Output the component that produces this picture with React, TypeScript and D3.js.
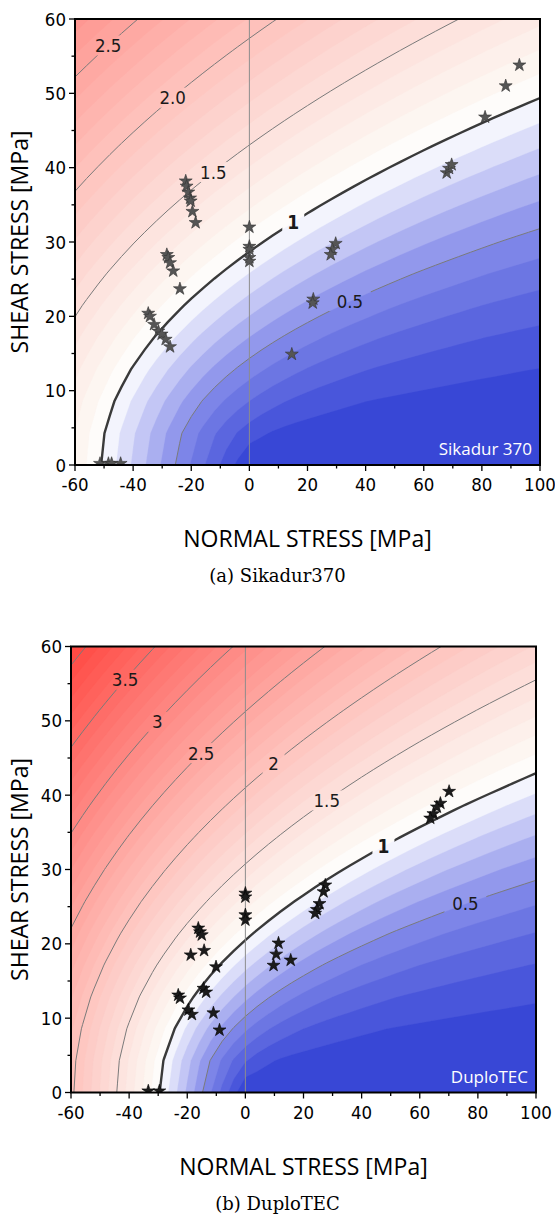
import React from 'react';
import * as d3 from 'd3';

// failure-envelope parameters read off the "1" contour of each panel
// tensile = |sigma| where the 1-contour meets tau = 0, shear = tau of the 1-contour at sigma = 0
const sikaTensile = 51;
const sikaShear = 28.7;
const duploTensile = 29.5;
const duploShear = 20.5;

// test points [normal stress, shear stress] in MPa
const sikaStars: [number, number][] = [
  [-21.9, 38.2], [-21.6, 37.5], [-21.0, 36.7], [-20.4, 35.9], [-20.2, 35.5], [-19.6, 34.1], [-18.5, 32.6],
  [-28.4, 28.3], [-27.9, 27.9], [-27.3, 27.2], [-26.2, 26.1], [-23.9, 23.7],
  [-34.8, 20.4], [-34.2, 20.0], [-32.8, 18.9], [-31.3, 18.0], [-30.2, 17.6], [-28.8, 16.9], [-27.3, 15.9],
  [0, 32.0], [0, 29.4], [0, 29.0], [0, 27.9], [0, 27.4],
  [-51.4, 0.2], [-48.5, 0.2], [-47.4, 0.2], [-44.3, 0.2],
  [29.7, 29.8], [28.5, 29.0], [28.0, 28.3],
  [22.0, 22.3], [21.8, 21.8], [14.6, 14.9],
  [67.9, 39.3], [68.7, 39.9], [69.6, 40.4], [81.1, 46.8], [88.2, 51.0], [92.9, 53.8],
];

const duploStars: [number, number][] = [
  [0, 26.8], [0, 26.3], [0, 23.9], [0, 23.2],
  [-16.2, 22.1], [-15.6, 21.6], [-15.0, 21.2], [-18.8, 18.5], [-14.2, 19.1], [-10.1, 16.9],
  [-23.1, 13.1], [-22.5, 12.7], [-14.4, 14.0], [-13.5, 13.5],
  [-19.6, 11.1], [-18.4, 10.5], [-11.0, 10.7], [-8.9, 8.4],
  [-33.4, 0.2], [-29.6, 0.2],
  [11.4, 20.1], [10.6, 18.6], [9.7, 17.1], [15.6, 17.8],
  [27.5, 27.9], [26.9, 27.0], [25.5, 25.4], [24.6, 24.6], [24.0, 24.1],
  [70.1, 40.5], [67.1, 38.9], [65.9, 38.4], [64.7, 37.5], [63.6, 36.9],
];

// contour labels: text, level, sigma where the label sits on its line
const sikaLabels = [
  { text: '2.5', level: 2.5, sigma: -48.6 },
  { text: '2.0', level: 2.0, sigma: -26.4 },
  { text: '1.5', level: 1.5, sigma: -12.4 },
  { text: '1', level: 1, sigma: 15.1 },
  { text: '0.5', level: 0.5, sigma: 34.6 },
];
const duploLabels = [
  { text: '3.5', level: 3.5, sigma: -41.4 },
  { text: '3', level: 3, sigma: -30.3 },
  { text: '2.5', level: 2.5, sigma: -15.2 },
  { text: '2', level: 2, sigma: 9.7 },
  { text: '1.5', level: 1.5, sigma: 28.0 },
  { text: '1', level: 1, sigma: 47.5 },
  { text: '0.5', level: 0.5, sigma: 75.7 },
];

const xTicks = [-60, -40, -20, 0, 20, 40, 60, 80, 100];
const yTicks = [0, 10, 20, 30, 40, 50, 60];
const fillLevels = d3.range(0, 46).map(i => i / 10);
const lineLevels = [0.5, 1, 1.5, 2, 2.5, 3, 3.5, 4];

const tickFont = "'Liberation Sans Narrow', 'Arial Narrow', 'DejaVu Sans Condensed', sans-serif";
const titleFont = "'Open Sans', 'Noto Sans', sans-serif";

const color = d3.scaleLinear<string>()
  .domain([0, 0.5, 1, 1.15, 4.3])
  .range(['#2f3fd4', '#868dea', '#ffffff', '#fdf6f1', '#ff3b35'])
  .clamp(true);

// load exposure: factor by which the point lies inside/outside the parabolic envelope
const exposure = (s: number, t: number, tens: number, shear: number) => {
  const a = s / tens;
  const b = t / shear;
  return (-a + Math.sqrt(a * a + 4 * b * b)) / 2;
};

const tauOn = (level: number, s: number, tens: number, shear: number) =>
  shear * Math.sqrt(Math.max(0, level * level + level * s / tens));

function Panel({ id, left, top, tens, shear, stars, labels, name, caption, starFill, starStroke }: any) {
  const W = 465;
  const H = 446;
  const x = d3.scaleLinear().domain([-60, 100]).range([0, W]);
  const y = d3.scaleLinear().domain([0, 60]).range([H, 0]);

  // coarse sampling grid, like the original plot
  const nx = 41;
  const ny = 15;
  const gx = d3.scaleLinear().domain([0.5, nx - 0.5]).range([-60, 100]);
  const gy = d3.scaleLinear().domain([0.5, ny - 0.5]).range([0, 60]);
  const values: number[] = new Array(nx * ny);
  for (let j = 0; j < ny; j++) {
    for (let i = 0; i < nx; i++) {
      values[j * nx + i] = exposure(gx(i + 0.5), gy(j + 0.5), tens, shear);
    }
  }
  const path = d3.geoPath(d3.geoTransform({
    point(px: number, py: number) { (this as any).stream.point(x(gx(px)), y(gy(py))); },
  }));
  const bands = d3.contours().size([nx, ny]).thresholds(fillLevels)(values);
  const lines = d3.contours().size([nx, ny]).thresholds(lineLevels)(values);

  const star = d3.symbol(d3.symbolStar, 52)();

  const labelPos = labels.map((l: any) => ({
    ...l,
    px: x(l.sigma),
    py: y(tauOn(l.level, l.sigma, tens, shear)),
  }));

  return (
    <g transform={`translate(${left},${top})`}>
      <defs>
        <clipPath id={`clip-${id}`}>
          <rect x={0} y={0} width={W} height={H} />
        </clipPath>
        <mask id={`mask-${id}`}>
          <rect x={-10} y={-10} width={W + 20} height={H + 20} fill="white" />
          {labelPos.map((l: any, i: number) => (
            <rect key={i} x={l.px - l.text.length * 5 - 6} y={l.py - 10}
              width={l.text.length * 10 + 12} height={20} fill="black" />
          ))}
        </mask>
      </defs>
      <g clipPath={`url(#clip-${id})`}>
        {bands.map((b, i) => (
          <path key={i} d={path(b as any) || ''} fill={color(b.value + 0.05)} stroke={color(b.value + 0.05)} strokeWidth={0.3} />
        ))}
        <g mask={`url(#mask-${id})`}>
          {lines.map((c, i) => (
            <path key={i} d={path(c as any) || ''} fill="none"
              stroke={c.value === 1 ? '#3a3a3a' : '#7a7a7a'}
              strokeWidth={c.value === 1 ? 2.4 : 1} />
          ))}
        </g>
        <line x1={x(0)} x2={x(0)} y1={0} y2={H} stroke="#8c8c8c" strokeWidth={1} />
        {stars.map((d: [number, number], i: number) => (
          <path key={i} d={star || ''} transform={`translate(${x(d[0])},${y(d[1])})`}
            fill={starFill} stroke={starStroke} strokeWidth={0.6} />
        ))}
      </g>
      {labelPos.map((l: any, i: number) => (
        <text key={i} x={l.px} y={l.py} dy="0.36em" textAnchor="middle"
          fontFamily={tickFont} fontSize={l.level === 1 ? 19 : 18.5} fontWeight={l.level === 1 ? 'bold' : 'normal'} fill="#1a1a1a">
          {l.text}
        </text>
      ))}
      <text x={W - 8} y={H - 10} textAnchor="end" fontFamily={titleFont} fontSize={17} fill="#ffffff">{name}</text>
      <rect x={0} y={0} width={W} height={H} fill="none" stroke="#000" strokeWidth={2} />
      {/* x axis */}
      {d3.range(-60, 101, 10).map(v => (
        <line key={`xm${v}`} x1={x(v)} x2={x(v)} y1={H} y2={H + (v % 20 === 0 ? 6 : 3.5)} stroke="#000" strokeWidth={1.3} />
      ))}
      {xTicks.map(v => (
        <text key={`xt${v}`} x={x(v)} y={H + 26} textAnchor="middle" fontFamily={tickFont} fontSize={18.5} fill="#000">{v}</text>
      ))}
      {/* y axis */}
      {d3.range(0, 61, 5).map(v => (
        <line key={`ym${v}`} x1={0} x2={v % 10 === 0 ? -6 : -3.5} y1={y(v)} y2={y(v)} stroke="#000" strokeWidth={1.3} />
      ))}
      {yTicks.map(v => (
        <text key={`yt${v}`} x={-9} y={y(v)} dy="0.36em" textAnchor="end" fontFamily={tickFont} fontSize={18.5} fill="#000">{v}</text>
      ))}
      <text x={W / 2} y={H + 82} textAnchor="middle" fontFamily={titleFont} fontSize={23} fill="#000">NORMAL STRESS [MPa]</text>
      <text transform={`translate(${-left + 28},${H / 2}) rotate(-90)`} textAnchor="middle" fontFamily={titleFont} fontSize={23} fill="#000">SHEAR STRESS [MPa]</text>
      <text x={277.5 - left} y={H + 117} textAnchor="middle" fontFamily="'DejaVu Serif', serif" fontSize={18} fill="#000">{caption}</text>
    </g>
  );
}

export default function App() {
  return (
    <svg width={555} height={1222} style={{ position: 'absolute', left: 0, top: 0, background: '#fff' }}>
      <Panel id="a" left={75} top={19} tens={sikaTensile} shear={sikaShear} stars={sikaStars}
        labels={sikaLabels} name="Sikadur 370" caption="(a)  Sikadur370" starFill="#555555" starStroke="#333333" />
      <Panel id="b" left={71} top={646.5} tens={duploTensile} shear={duploShear} stars={duploStars}
        labels={duploLabels} name="DuploTEC" caption="(b)  DuploTEC" starFill="#1c1c1c" starStroke="#000000" />
    </svg>
  );
}
